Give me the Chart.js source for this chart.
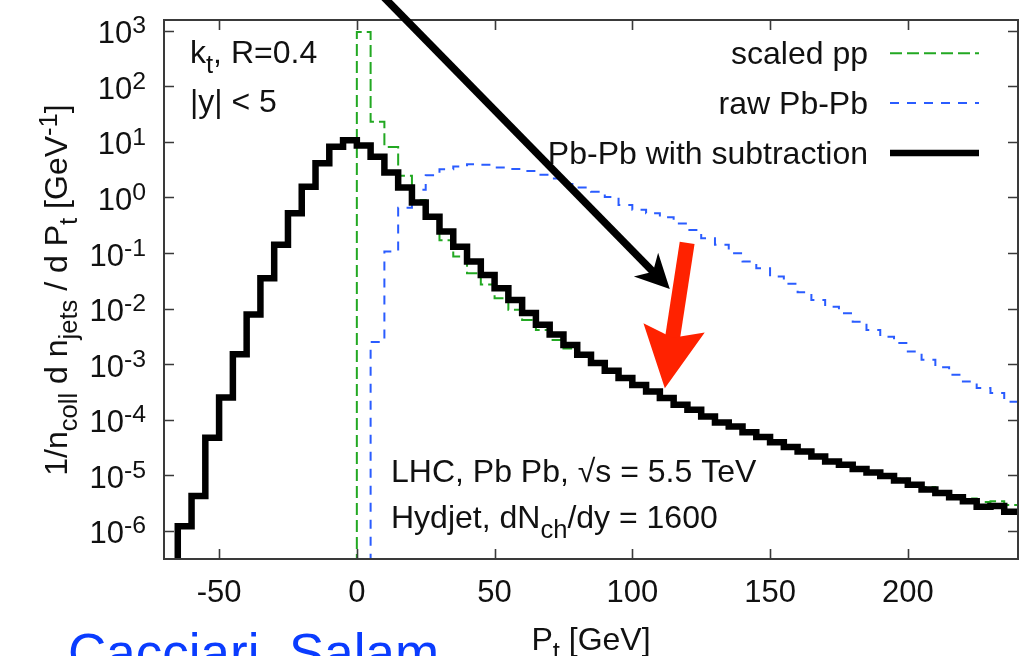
<!DOCTYPE html>
<html>
<head>
<meta charset="utf-8">
<script src="https://cdn.jsdelivr.net/npm/chart.js@4.4.1/dist/chart.umd.min.js"></script>
<style>
  html, body { margin: 0; padding: 0; background: #ffffff; overflow: hidden; }
  #wrap { width: 1031px; height: 656px; position: relative; }
</style>
</head>
<body>
<div id="wrap"><canvas id="c" width="1031" height="656"></canvas></div>
<script>
// ---------------- data ----------------
// lower edges of the 5 GeV bins, plus the final upper edge
const binEdges = [-70,-65,-60,-55,-50,-45,-40,-35,-30,-25,-20,-15,-10,-5,0,5,10,15,20,25,30,35,40,45,50,55,60,65,70,75,80,85,90,95,100,105,110,115,120,125,130,135,140,145,150,155,160,165,170,175,180,185,190,195,200,205,210,215,220,225,230,235,240];

// Pb-Pb with subtraction (one value per bin, null = empty bin)
const pbpbSubtracted = [null,1.2e-6,4.2e-6,4.7e-5,2.5e-4,1.5e-3,7.8e-3,0.035,0.14,0.52,1.56,4.1,8.2,10.7,8.6,5.4,2.8,1.5,0.81,0.45,0.243,0.13,0.07,0.040,0.0232,0.0143,0.0083,0.0051,0.0034,0.0022,0.00147,0.00105,7.6e-4,5.6e-4,4.2e-4,3.2e-4,2.44e-4,1.85e-4,1.5e-4,1.14e-4,8.9e-5,7.5e-5,5.9e-5,4.85e-5,3.9e-5,3.2e-5,2.67e-5,2.17e-5,1.77e-5,1.54e-5,1.29e-5,1.12e-5,9.7e-6,8.0e-6,6.7e-6,5.5e-6,4.8e-6,4.0e-6,3.4e-6,2.7e-6,2.8e-6,2.2e-6];

// scaled pp
const scaledPP = [null,null,null,null,null,null,null,null,null,null,null,null,null,null,950,23,8.1,2.45,0.9,0.42,0.17,0.086,0.043,0.027,0.0153,0.0095,0.0062,0.0041,0.0027,0.0019,0.00135,0.00098,7.4e-4,5.5e-4,4.1e-4,3.25e-4,2.55e-4,1.9e-4,1.5e-4,1.2e-4,9.3e-5,7.4e-5,6.1e-5,4.9e-5,4.0e-5,3.4e-5,2.8e-5,2.3e-5,1.85e-5,1.6e-5,1.37e-5,1.17e-5,1.0e-5,8.6e-6,7.2e-6,6.1e-6,5.0e-6,4.3e-6,3.8e-6,3.3e-6,3.4e-6,2.9e-6];

// raw Pb-Pb
const rawPbPb = [null,null,null,null,null,null,null,null,null,null,null,null,null,null,null,2.5e-3,0.106,0.65,1.38,2.5,3.2,3.6,3.95,3.85,3.45,3.25,3.0,2.55,2.2,1.75,1.5,1.27,1.02,0.73,0.6,0.52,0.44,0.34,0.26,0.184,0.14,0.099,0.070,0.053,0.0376,0.0278,0.0197,0.0143,0.0108,0.0082,0.0058,0.0041,0.0031,0.0024,0.00168,0.00119,8.8e-4,6.4e-4,4.85e-4,3.7e-4,3.0e-4,2.1e-4];

const seriesLabels = ['scaled pp', 'raw Pb-Pb', 'Pb-Pb with subtraction'];
const xTickValues = [-50, 0, 50, 100, 150, 200];
const yTickValues = [1e-6, 1e-5, 1e-4, 1e-3, 1e-2, 1e-1, 1e0, 1e1, 1e2, 1e3];
const X_MIN = -70, X_MAX = 240;
const Y_MIN = 3.1e-7, Y_MAX = 1.56e3;

// annotation arrows, in data coordinates [x (GeV), y]
const blackArrow = { from: [-3.4, 1.87e4], to: [113.6, 0.0225] };
const redArrow   = { from: [119.9, 0.152], to: [111.8, 3.69e-4] };

// ---------------- helpers ----------------
const FONT = '"Liberation Sans", Arial, Helvetica, sans-serif';
const BELOW_RANGE = Y_MIN / 1e4;   // empty bins drop below the visible range

// step-before: each point's value holds from its x to the next point's x
function histPoints(values) {
  const pts = [];
  for (let i = 0; i < values.length; i++) {
    pts.push({ x: binEdges[i], y: values[i] == null ? BELOW_RANGE : values[i] });
  }
  const last = values[values.length - 1];
  pts.push({ x: binEdges[values.length], y: last == null ? BELOW_RANGE : last });
  return pts;
}

function fontStr(size) { return size + 'px ' + FONT; }

function richWidth(ctx, parts, size) {
  let w = 0;
  for (const p of parts) {
    ctx.font = fontStr((p.sub || p.sup) ? size * 0.8 : size);
    w += ctx.measureText(p.t).width;
  }
  return w;
}

function drawRich(ctx, parts, x, y, size, align) {
  const w = richWidth(ctx, parts, size);
  let cx = align === 'right' ? x - w : (align === 'center' ? x - w / 2 : x);
  ctx.textAlign = 'left';
  ctx.textBaseline = 'alphabetic';
  for (const p of parts) {
    const s = (p.sub || p.sup) ? size * 0.8 : size;
    ctx.font = fontStr(s);
    const dy = p.sub ? size * 0.3 : (p.sup ? -size * 0.32 : 0);
    ctx.fillText(p.t, cx, y + dy);
    cx += ctx.measureText(p.t).width;
  }
}

function drawArrow(ctx, x0, y0, x1, y1, color, shaftW, headLen, headHalf, notch) {
  const dx = x1 - x0, dy = y1 - y0, L = Math.hypot(dx, dy);
  const ux = dx / L, uy = dy / L, nx = -uy, ny = ux;
  const bx = x1 - ux * headLen, by = y1 - uy * headLen;
  const kx = x1 - ux * (headLen - notch), ky = y1 - uy * (headLen - notch);
  ctx.save();
  ctx.strokeStyle = color;
  ctx.lineWidth = shaftW;
  ctx.lineCap = 'butt';
  ctx.beginPath();
  ctx.moveTo(x0, y0);
  ctx.lineTo(kx + ux * 2, ky + uy * 2);
  ctx.stroke();
  ctx.fillStyle = color;
  ctx.beginPath();
  ctx.moveTo(x1, y1);
  ctx.lineTo(bx + nx * headHalf, by + ny * headHalf);
  ctx.lineTo(kx, ky);
  ctx.lineTo(bx - nx * headHalf, by - ny * headHalf);
  ctx.closePath();
  ctx.fill();
  ctx.restore();
}

// ---------------- decorations plugin ----------------
const decorations = {
  id: 'decorations',
  afterDatasetsDraw(chart) {
    const ctx = chart.ctx;
    const a = chart.chartArea;
    const xs = chart.scales.x, ys = chart.scales.y;
    ctx.save();

    // frame
    ctx.strokeStyle = '#3a3a3a';
    ctx.lineWidth = 2;
    ctx.strokeRect(a.left, a.top, a.right - a.left, a.bottom - a.top);

    // tick marks (inward, mirrored)
    ctx.lineWidth = 1.6;
    ctx.beginPath();
    for (const v of xTickValues) {
      const px = Math.round(xs.getPixelForValue(v)) + 0.5;
      ctx.moveTo(px, a.bottom); ctx.lineTo(px, a.bottom - 10);
      ctx.moveTo(px, a.top); ctx.lineTo(px, a.top + 10);
    }
    for (const v of yTickValues) {
      const py = Math.round(ys.getPixelForValue(v)) + 0.5;
      ctx.moveTo(a.left, py); ctx.lineTo(a.left + 10, py);
      ctx.moveTo(a.right, py); ctx.lineTo(a.right - 10, py);
    }
    ctx.stroke();

    // y tick labels 10^n
    ctx.fillStyle = '#111';
    for (const v of yTickValues) {
      const py = ys.getPixelForValue(v);
      const e = Math.round(Math.log10(v));
      drawRich(ctx, [{ t: '10' }, { t: String(e), sup: true }], 146, py + 12.6, 31, 'right');
    }

    // y axis title (rotated)
    ctx.save();
    ctx.translate(67, 290);
    ctx.rotate(-Math.PI / 2);
    drawRich(ctx, [
      { t: '1/n' }, { t: 'coll', sub: true }, { t: ' d n' }, { t: 'jets', sub: true },
      { t: ' / d P' }, { t: 't', sub: true }, { t: ' [GeV' }, { t: '-1', sup: true }, { t: ']' }
    ], 0, 0, 32, 'center');
    ctx.restore();

    // x axis title
    drawRich(ctx, [{ t: 'P' }, { t: 't', sub: true }, { t: ' [GeV]' }], (a.left + a.right) / 2, 650, 32, 'center');

    // in-plot texts
    drawRich(ctx, [{ t: 'k' }, { t: 't', sub: true }, { t: ', R=0.4' }], 190, 63, 32, 'left');
    drawRich(ctx, [{ t: '|y| < 5' }], 190, 111.5, 32, 'left');
    drawRich(ctx, [{ t: 'LHC, Pb Pb, \u221As = 5.5 TeV' }], 391, 482, 32, 'left');
    drawRich(ctx, [{ t: 'Hydjet, dN' }, { t: 'ch', sub: true }, { t: '/dy = 1600' }], 391, 528, 32, 'left');

    // legend (text right-aligned, sample on the right)
    const rowY = [53.3, 103, 153];
    chart.data.datasets.forEach((ds, i) => {
      const y = rowY[i];
      ctx.fillStyle = '#111';
      drawRich(ctx, [{ t: ds.label }], 868, y + 10.5, 32, 'right');
      ctx.save();
      ctx.strokeStyle = ds.borderColor;
      ctx.lineWidth = ds.borderWidth;
      ctx.setLineDash(ds.borderDash || []);
      ctx.beginPath();
      ctx.moveTo(890, y); ctx.lineTo(979, y);
      ctx.stroke();
      ctx.restore();
    });

    // author credit (slide annotation, cut by the bottom edge)
    ctx.fillStyle = '#0a3cff';
    ctx.font = fontStr(53);
    ctx.textAlign = 'left';
    ctx.textBaseline = 'alphabetic';
    ctx.fillText('Cacciari, Salam', 68, 671);

    // arrows
    drawArrow(ctx,
      xs.getPixelForValue(blackArrow.from[0]), ys.getPixelForValue(blackArrow.from[1]),
      xs.getPixelForValue(blackArrow.to[0]), ys.getPixelForValue(blackArrow.to[1]),
      '#000000', 7.5, 34, 17, 10);
    drawArrow(ctx,
      xs.getPixelForValue(redArrow.from[0]), ys.getPixelForValue(redArrow.from[1]),
      xs.getPixelForValue(redArrow.to[0]), ys.getPixelForValue(redArrow.to[1]),
      '#ff2200', 15, 61, 31, 10);

    ctx.restore();
  }
};

// ---------------- chart ----------------
const common = { stepped: 'before', pointRadius: 0, pointHitRadius: 0, tension: 0, fill: false, clip: 0,
                 borderJoinStyle: 'miter', borderCapStyle: 'butt' };

new Chart(document.getElementById('c'), {
  type: 'line',
  data: {
    datasets: [
      Object.assign({ label: seriesLabels[0], data: histPoints(scaledPP), borderColor: '#22a822',
                      borderWidth: 2, borderDash: [12, 5], order: 1 }, common),
      Object.assign({ label: seriesLabels[1], data: histPoints(rawPbPb), borderColor: '#2a5cff',
                      borderWidth: 2, borderDash: [9, 8], order: 2 }, common),
      Object.assign({ label: seriesLabels[2], data: histPoints(pbpbSubtracted), borderColor: '#000000',
                      borderWidth: 6.5, order: 0 }, common)
    ]
  },
  options: {
    responsive: false,
    animation: false,
    devicePixelRatio: 1,
    events: [],
    layout: { padding: { top: 20, right: 13, bottom: 0, left: 0 } },
    plugins: { legend: { display: false }, tooltip: { enabled: false }, title: { display: false } },
    scales: {
      x: {
        type: 'linear', min: X_MIN, max: X_MAX,
        afterBuildTicks: s => { s.ticks = xTickValues.map(v => ({ value: v })); },
        afterFit: s => { s.height = 97; },
        grid: { display: false, drawTicks: false },
        border: { display: false },
        ticks: { font: { family: FONT, size: 31 }, color: '#111', padding: 16, maxRotation: 0, autoSkip: false }
      },
      y: {
        type: 'logarithmic', min: Y_MIN, max: Y_MAX,
        afterBuildTicks: s => { s.ticks = yTickValues.map(v => ({ value: v })); },
        afterFit: s => { s.width = 164; },
        grid: { display: false, drawTicks: false },
        border: { display: false },
        ticks: { display: false }
      }
    }
  },
  plugins: [decorations]
});
</script>
</body>
</html>
